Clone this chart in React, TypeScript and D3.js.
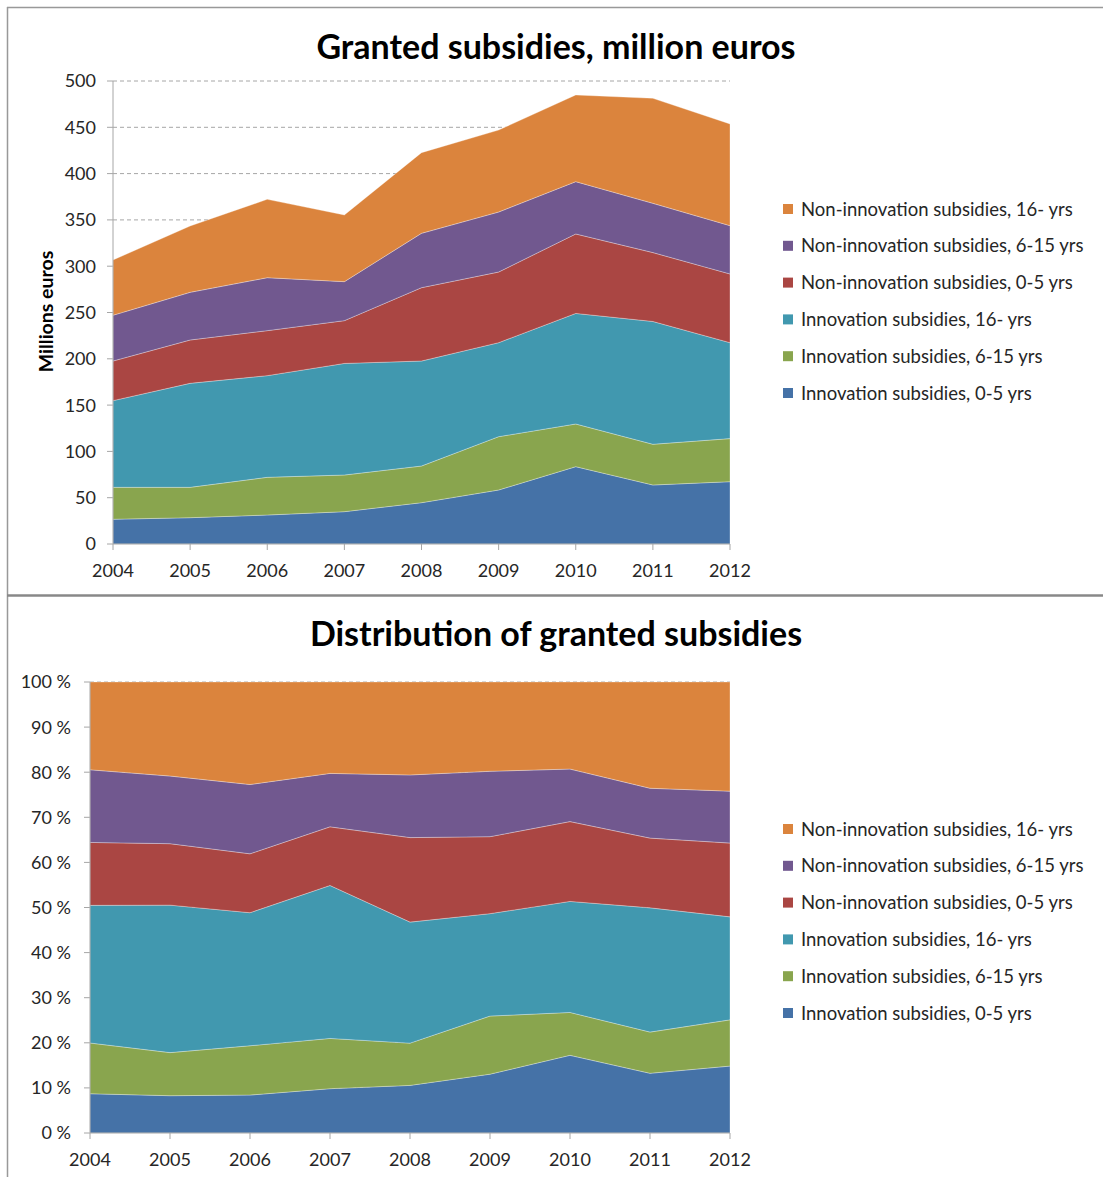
import React from "react";
import * as d3 from "d3";

const years = [2004, 2005, 2006, 2007, 2008, 2009, 2010, 2011, 2012];
const seriesNames = [
  "Innovation subsidies, 0-5 yrs",
  "Innovation subsidies, 6-15 yrs",
  "Innovation subsidies, 16- yrs",
  "Non-innovation subsidies, 0-5 yrs",
  "Non-innovation subsidies, 6-15 yrs",
  "Non-innovation subsidies, 16- yrs",
];
const colors = ["#4572A7", "#89A54E", "#4198AF", "#AA4643", "#71588F", "#DB843D"];

const innov05 = [26.7, 28.4, 31.3, 34.9, 44.6, 58.3, 83.5, 63.7, 67.3];
const innov615 = [34.5, 32.8, 40.7, 39.6, 39.6, 57.6, 46.1, 44.0, 46.5];
const innov16 = [93.6, 112.3, 109.8, 120.5, 113.4, 101.5, 119.4, 132.6, 103.6];
const nonInnov05 = [42.8, 46.8, 48.6, 46.2, 79.2, 76.3, 85.8, 74.4, 74.2];
const nonInnov615 = [49.4, 51.5, 57.2, 42.1, 58.7, 64.8, 56.5, 53.2, 52.2];
const nonInnov16 = [59.7, 71.6, 84.6, 72.0, 87.1, 88.5, 93.6, 113.4, 109.8];

const topTicks = [0, 50, 100, 150, 200, 250, 300, 350, 400, 450, 500];
const pctTicks = [0, 0.1, 0.2, 0.3, 0.4, 0.5, 0.6, 0.7, 0.8, 0.9, 1.0];

const FONT = "Lato, 'Open Sans', sans-serif";
const TXT = "#262626";

const allSeries = [innov05, innov615, innov16, nonInnov05, nonInnov615, nonInnov16];
const rows = years.map((y, i) => {
  const r: any = { year: y };
  seriesNames.forEach((n, k) => (r[n] = allSeries[k][i]));
  return r;
});

function Chart({
  x0, x1, y0, y1, domainMax, ticks, fmt, title, titleY, yLabel, stackOffset, legendY0, legendStep, tickGap,
}: any) {
  const x = d3.scaleLinear().domain([years[0], years[years.length - 1]]).range([x0, x1]);
  const y = d3.scaleLinear().domain([0, domainMax]).range([y0, y1]);
  const stack = d3.stack<any>().keys(seriesNames).offset(stackOffset);
  const layers = stack(rows);
  const area = d3
    .area<any>()
    .x((d) => x(d.data.year))
    .y0((d) => y(d[0]))
    .y1((d) => y(d[1]));
  return (
    <g>
      <text x={556} y={titleY} textAnchor="middle" fontFamily={FONT} fontWeight="bold" fontSize={34} fill="#000">
        {title}
      </text>
      {ticks.map((t: number) => (
        <g key={t}>
          {t > 0 && (
            <line x1={x0} x2={x1} y1={y(t)} y2={y(t)} stroke="#a6a6a6" strokeWidth={1} strokeDasharray="4,3" />
          )}
          <line x1={x0 - 6} x2={x0} y1={y(t)} y2={y(t)} stroke="#a6a6a6" strokeWidth={1} />
          <text x={x0 - tickGap} y={y(t)} dy="0.36em" textAnchor="end" fontFamily={FONT} fontSize={18} fill={TXT}>
            {fmt(t)}
          </text>
        </g>
      ))}
      {layers.map((l: any, i: number) => (
        <path key={i} d={area(l) as string} fill={colors[i]} stroke="#ffffff" strokeOpacity={0.5} strokeWidth={0.6} />
      ))}
      <line x1={x0} x2={x0} y1={y1} y2={y0} stroke="#a6a6a6" strokeWidth={1} />
      <line x1={x0} x2={x1} y1={y0} y2={y0} stroke="#a6a6a6" strokeWidth={1} />
      {years.map((yr) => (
        <g key={yr}>
          <line x1={x(yr)} x2={x(yr)} y1={y0} y2={y0 + 6} stroke="#a6a6a6" strokeWidth={1} />
          <text x={x(yr)} y={y0 + 33} textAnchor="middle" fontFamily={FONT} fontSize={18} fill={TXT}>
            {yr}
          </text>
        </g>
      ))}
      {yLabel && (
        <text
          transform={`translate(53,${(y0 + y1) / 2 - 1}) rotate(-90)`}
          textAnchor="middle"
          fontFamily={FONT}
          fontWeight="bold"
          fontSize={19.5}
          fill="#000"
        >
          {yLabel}
        </text>
      )}
      {seriesNames
        .map((n, i) => ({ n, i }))
        .reverse()
        .map(({ n, i }, k) => (
          <g key={n} transform={`translate(0,${legendY0 + k * legendStep})`}>
            <rect x={783} y={-5} width={10} height={10} fill={colors[i]} />
            <text x={801} y={0} dy="0.36em" fontFamily={FONT} fontSize={18.5} fill={TXT}>
              {n}
            </text>
          </g>
        ))}
    </g>
  );
}

export default function App() {
  return (
    <div style={{ position: "absolute", left: 0, top: 0 }}>
      <svg width={1103} height={1177} style={{ display: "block", background: "#fff" }}>
        <rect x={0} y={0} width={1103} height={1177} fill="#fff" />
        <line x1={7} x2={1103} y1={7.5} y2={7.5} stroke="#999" strokeWidth={1.5} />
        <line x1={7.5} x2={7.5} y1={7} y2={1177} stroke="#999" strokeWidth={1.5} />
        <line x1={7} x2={1103} y1={595.5} y2={595.5} stroke="#888" strokeWidth={2.5} />
        <Chart
          x0={113}
          x1={730}
          y0={544}
          y1={81}
          domainMax={500}
          ticks={topTicks}
          fmt={(t: number) => String(t)}
          title="Granted subsidies, million euros"
          titleY={59}
          yLabel="Millions euros"
          stackOffset={d3.stackOffsetNone}
          legendY0={209}
          legendStep={36.8}
          tickGap={17}
        />
        <Chart
          x0={90}
          x1={730}
          y0={1133}
          y1={682}
          domainMax={1}
          ticks={pctTicks}
          fmt={(t: number) => `${Math.round(t * 100)} %`}
          title="Distribution of granted subsidies"
          titleY={646}
          yLabel={null}
          stackOffset={d3.stackOffsetExpand}
          legendY0={829}
          legendStep={36.8}
          tickGap={19}
        />
      </svg>
    </div>
  );
}
